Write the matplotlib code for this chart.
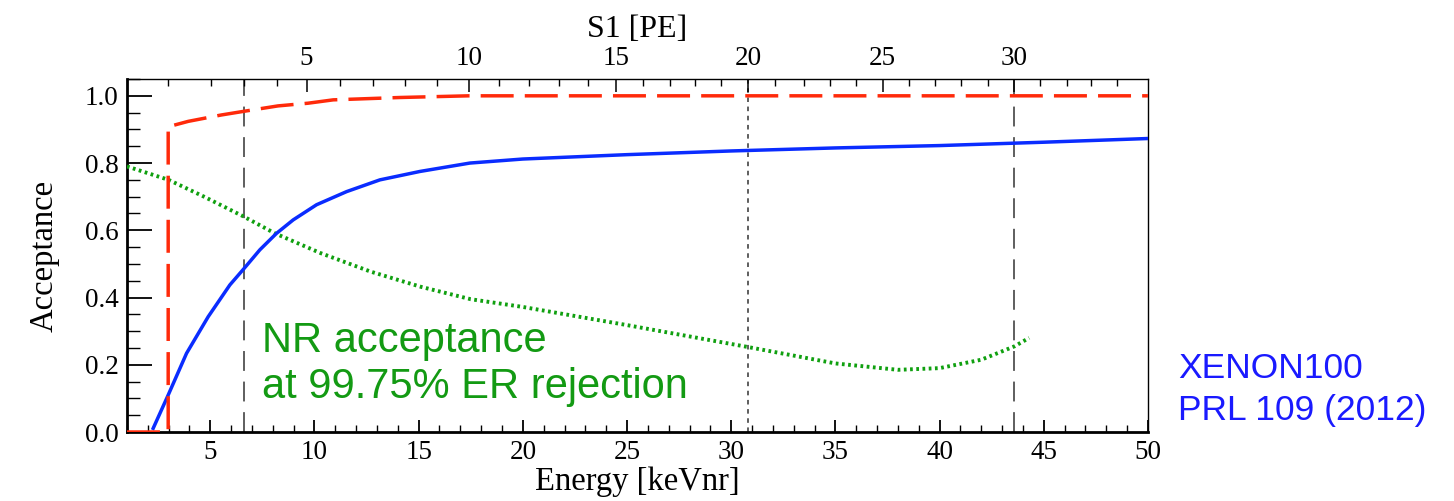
import numpy as np
import matplotlib
matplotlib.use("Agg")
import matplotlib.pyplot as plt
from matplotlib.ticker import MultipleLocator, FixedLocator

# ---------------- data ----------------
red_energy = [1.0, 2.98, 2.98, 3.94, 5.53, 6.72, 8.25, 9.69, 10.9, 14.1, 17.4, 50.0]
red_accept = [0.0, 0.0, 0.908, 0.924, 0.943, 0.955, 0.970, 0.978, 0.988, 0.995, 1.0, 1.0]

blue_energy = [2.26, 2.98, 3.86, 4.90, 5.94, 6.63, 7.38, 8.18, 8.98, 10.1, 11.54,
               13.14, 15.06, 17.46, 20.0, 25.0, 30.0, 35.0, 40.0, 45.0, 50.0]
blue_accept = [0.011, 0.11, 0.234, 0.343, 0.4375, 0.487, 0.542, 0.591, 0.631, 0.676, 0.715,
               0.750, 0.775, 0.800, 0.812, 0.825, 0.836, 0.845, 0.852, 0.862, 0.873]

green_energy = [1.0, 3.0, 4.7, 6.6, 8.1, 10.3, 12.7, 15.1, 17.5, 20.0, 25.0, 30.7,
                35.0, 38.0, 40.0, 42.0, 43.6, 44.3]
green_accept = [0.79, 0.75, 0.70, 0.641, 0.591, 0.532, 0.477, 0.432, 0.395, 0.372, 0.318, 0.254,
                0.204, 0.185, 0.19, 0.215, 0.255, 0.28]

# S1 [PE] scale on the top axis and the energies it sits at
s1_pe = list(range(1, 35))
s1_energy = [2.98, 5.03, 6.63, 8.18, 9.62, 11.22, 12.82, 14.34, 15.86, 17.41, 18.85, 20.29,
             21.74, 23.14, 24.46, 25.78, 27.05, 28.26, 29.50, 30.80, 32.09, 33.47, 34.73,
             36.00, 37.27, 38.52, 39.77, 41.03, 42.31, 43.57, 44.83, 46.10, 47.29, 48.50]
s1_major = [5, 10, 15, 20, 25, 30]

# S1 values of the vertical marker lines
s1_window_dashed = [3, 30]
s1_window_dotted = [20]

# ---------------- figure ----------------
serif = "Liberation Serif"
sans = "Liberation Sans"

fig = plt.figure(figsize=(14.54, 5.01), dpi=100)
ax = fig.add_axes([0.0873, 0.1377, 0.7022, 0.7046])

ax.plot(green_energy, green_accept, color="#10a010", lw=2.8, linestyle=(0, (0.7, 0.9)),
        dash_capstyle="butt", zorder=3)
ax.plot(blue_energy, blue_accept, color="#0a2cff", lw=2.5, zorder=4)
ax.plot(red_energy, red_accept, color="#ff2a0a", lw=2.5, linestyle=(0, (9.5, 3.2)), zorder=5)

for s in s1_window_dashed:
    e = np.interp(s, s1_pe, s1_energy)
    ax.axvline(e, color="#333333", lw=1.1, linestyle=(0, (13, 7)), zorder=2)
for s in s1_window_dotted:
    e = np.interp(s, s1_pe, s1_energy)
    ax.axvline(e, color="#333333", lw=1.1, linestyle=(0, (3, 3)), zorder=2)

ax.set_xlim(1, 50)
ax.set_ylim(0, 1.05)
ax.xaxis.set_major_locator(MultipleLocator(5))
ax.xaxis.set_minor_locator(MultipleLocator(1))
ax.yaxis.set_major_locator(FixedLocator([0.0, 0.2, 0.4, 0.6, 0.8, 1.0]))
ax.yaxis.set_minor_locator(MultipleLocator(0.05))
ax.yaxis.set_major_formatter(matplotlib.ticker.FormatStrFormatter("%.1f"))

ax.tick_params(axis="x", which="major", direction="in", length=9, width=1.3,
               labelsize=19.5, pad=6, top=False)
ax.tick_params(axis="x", which="minor", direction="in", length=5, width=1.0, top=False)
ax.tick_params(axis="y", which="major", direction="in", length=18, width=1.3,
               labelsize=19.5, pad=6, right=False)
ax.tick_params(axis="y", which="minor", direction="in", length=9, width=1.0, right=False)
for lab in ax.get_xticklabels() + ax.get_yticklabels():
    lab.set_fontfamily(serif)
ax.set_xticklabels([str(int(t)) if t > 1 else "" for t in ax.get_xticks()])

ax.spines["left"].set_linewidth(2.0)
ax.spines["bottom"].set_linewidth(2.0)
ax.spines["top"].set_linewidth(1.0)
ax.spines["right"].set_linewidth(1.0)

ax.set_xlabel("Energy [keVnr]", fontsize=23.5, family=serif, labelpad=1)
ax.set_ylabel("Acceptance", fontsize=23.5, family=serif, labelpad=18)

# top S1 axis
ax2 = ax.twiny()
ax2.set_xlim(ax.get_xlim())
maj_e = [np.interp(s, s1_pe, s1_energy) for s in s1_major]
ax2.xaxis.set_major_locator(FixedLocator(maj_e))
ax2.xaxis.set_minor_locator(FixedLocator(s1_energy))
ax2.set_xticklabels([str(s) for s in s1_major], fontsize=19.5, family=serif)
ax2.tick_params(axis="x", which="major", direction="in", length=9, width=1.1, pad=6)
ax2.tick_params(axis="x", which="minor", direction="in", length=5, width=1.0)
ax2.set_xlabel("S1 [PE]", fontsize=23, family=serif, labelpad=6)
for sp in ax2.spines.values():
    sp.set_visible(False)

# annotations
ax.text(7.48, 0.239, "NR acceptance", color="#139a13", fontsize=30, family=sans,
        ha="left", va="baseline")
ax.text(7.48, 0.101, "at 99.75% ER rejection", color="#139a13", fontsize=30, family=sans,
        ha="left", va="baseline")
fig.text(0.810, 0.2455, "XENON100", color="#1a1aff", fontsize=25.5, family=sans,
         ha="left", va="baseline")
fig.text(0.810, 0.162, "PRL 109 (2012)", color="#1a1aff", fontsize=25.5, family=sans,
         ha="left", va="baseline")

fig.savefig("out.png", dpi=100)
